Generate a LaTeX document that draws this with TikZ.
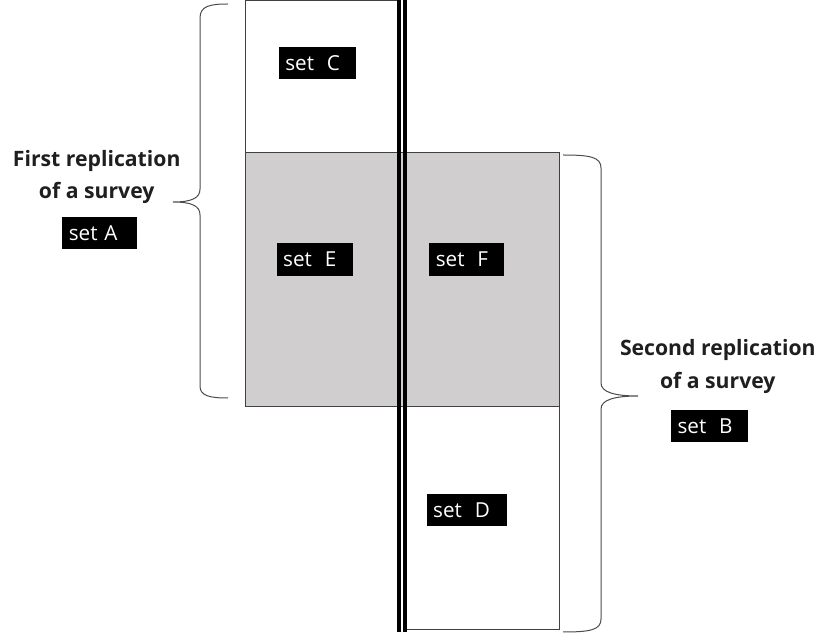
\documentclass[tikz,border=0pt]{standalone}
\usepackage{fontspec}
\setmainfont{Open Sans}
\definecolor{sharedgray}{HTML}{D0CECE}
\newcommand{\gapsp}{\hspace{0.62em}}
\begin{document}
\begin{tikzpicture}[x=0.75pt,y=-0.75pt,
  setlabel/.style={fill=black,text=white,font=\fontsize{15.5}{17}\selectfont,
    inner xsep=4.9pt,inner ysep=0pt,minimum height=24.4pt,text width=#1,align=left},
  heading/.style={font=\bfseries\fontsize{15.9}{24.5}\selectfont,align=center,text=black!88,inner sep=0pt},
  frame/.style={draw=black!75,line width=0.75pt},
  brace/.style={draw=black!70,line width=0.75pt},
  rail/.style={draw=black,line width=2.4pt}]
\useasboundingbox (0,0) rectangle (822,634);
\fill[white] (0,0) rectangle (822,634);

% panels
\fill[sharedgray] (245,153) rectangle (559,407);
\draw[frame] (245,1) rectangle (399,407);
\draw[frame] (245,153) rectangle (559,407);
\draw[frame] (405,153) rectangle (559,630);

% double dividing line
\draw[rail] (399,0) -- (399,632);
\draw[rail] (405,0) -- (405,632);

% set labels
\node[setlabel=47.95pt] (C) at (317.3,63.2)  {set\gapsp C};
\node[setlabel=47.2pt]  (E) at (314.7,259.5) {set\gapsp E};
\node[setlabel=46.45pt] (F) at (466.8,259.5) {set\gapsp F};
\node[setlabel=50.2pt]  (D) at (466.7,510)   {set\gapsp D};
\node[setlabel=46pt]    (A) at (99.5,233)    {set A};
\node[setlabel=48.2pt]  (B) at (709.7,426.2) {set\gapsp B};

% headings
\node[heading] (hA) at (96.7,177) {First replication\\of a survey};
\node[heading] (hB) at (717.8,366.7) {Second replication\\of a survey};

% braces
\draw[brace] (228,4) .. controls (210,4) and (200,6) .. (200,18) -- (200,189)
  .. controls (200,198) and (192,202) .. (173,202)
  .. controls (192,202) and (200,206) .. (200,215) -- (200,386)
  .. controls (200,396) and (210,398) .. (228,398);
\draw[brace] (563,155) .. controls (590,155) and (601,157) .. (601,168) -- (601,383)
  .. controls (601,392) and (614,396) .. (638,396)
  .. controls (614,396) and (601,400) .. (601,409) -- (601,619)
  .. controls (601,630) and (590,632) .. (563,632);
\end{tikzpicture}
\end{document}
